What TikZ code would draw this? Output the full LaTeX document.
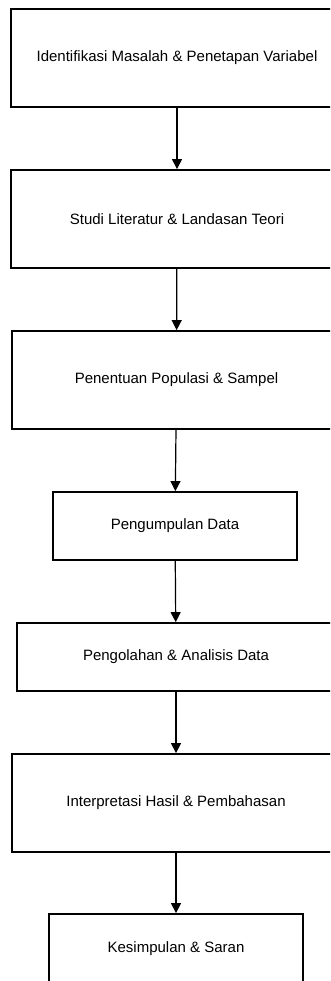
\documentclass[tikz,border=0pt]{standalone}
\usepackage{fontspec}
\setmainfont{Liberation Sans}
\usetikzlibrary{arrows.meta}

\begin{document}
\begin{tikzpicture}[x=1pt,y=-1pt]
        \tikzset{box/.style = {shape=rectangle,draw,line width=1.8pt,minimum width=332pt,minimum height=98pt,inner sep=0pt,font=\fontsize{15}{18}\selectfont}};
        \tikzset{edge/.style = {->,> = {Triangle[width=10pt,length=10pt]},line width=1.2pt}};
        \useasboundingbox (0,0) rectangle (330,981);
        \clip (0,0) rectangle (330,981);
        \node[box] (a) at (177,58) {Identifikasi Masalah \& Penetapan Variabel};
        \node[box] (b) at (177,219) {Studi Literatur \& Landasan Teori};
        \node[box,minimum width=329pt] (c) at (176.5,380) {Penentuan Populasi \& Sampel};
        \node[box,minimum width=244pt,minimum height=68pt] (d) at (175,526) {Pengumpulan Data};
        \node[box,minimum width=318pt,minimum height=68pt] (e) at (176,657) {Pengolahan \& Analisis Data};
        \node[box,minimum width=328pt] (f) at (176,803) {Interpretasi Hasil \& Pembahasan};
        \node[box,minimum width=254pt,minimum height=70pt] (g) at (176,949) {Kesimpulan \& Saran};
        \draw[edge] (a)  to (b);
        \draw[edge] (b)  to (c);
        \draw[edge] (c)  to (d);
        \draw[edge] (d)  to (e);
        \draw[edge] (e)  to (f);
        \draw[edge] (f)  to (g);
    \end{tikzpicture}
\end{document}
